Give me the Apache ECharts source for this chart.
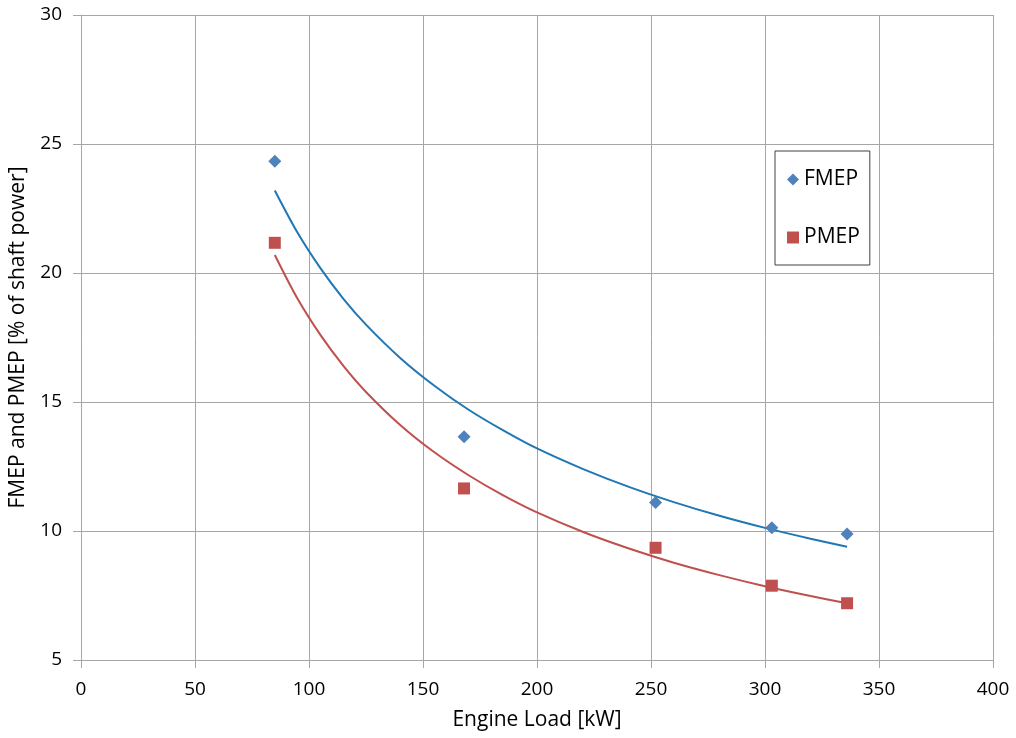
<!DOCTYPE html>
<html>
<head>
<meta charset="utf-8">
<script src="https://cdn.jsdelivr.net/npm/echarts@6/dist/echarts.min.js"></script>
<style>html,body{margin:0;padding:0;background:#fff}#c{width:1016px;height:738px}</style>
</head>
<body>
<div id="c"></div>
<script>
// Measured points
const loadX = [85, 168, 252, 303, 336];
const fmep = [24.33, 13.65, 11.1, 10.13, 9.88];
const pmep = [21.17, 11.65, 9.35, 7.88, 7.2];
// Trendlines
const trendX = [85, 95, 105, 115, 125, 140, 155, 170, 185, 200, 220, 240, 260, 280, 300, 320, 336];
const fmepTrend = [23.2, 21.56, 20.19, 19.01, 18.0, 16.71, 15.63, 14.7, 13.91, 13.2, 12.41, 11.72, 11.12, 10.59, 10.12, 9.7, 9.39];
const pmepTrend = [20.7, 19.0, 17.6, 16.41, 15.39, 14.11, 13.05, 12.16, 11.39, 10.72, 9.97, 9.33, 8.77, 8.29, 7.86, 7.48, 7.2];
const xTicks = [0, 50, 100, 150, 200, 250, 300, 350, 400];
const yTicks = [5, 10, 15, 20, 25, 30];
const seriesNames = ['FMEP', 'PMEP'];

const pair = (xs, ys) => xs.map((x, i) => [x, ys[i]]);
const font = 'Open Sans';
const gridColor = '#a6a6a6';

const chart = echarts.init(document.getElementById('c'));
chart.setOption({
  animation: false,
  backgroundColor: '#ffffff',
  textStyle: { fontFamily: font },
  grid: { left: 81, right: 23, top: 15, bottom: 78, containLabel: false, outerBoundsMode: 'none' },
  legend: {
    data: seriesNames,
    orient: 'vertical',
    left: 775, top: 151,
    padding: [18, 10, 17, 12],
    itemGap: 37,
    itemWidth: 12, itemHeight: 12,
    borderColor: '#404040', borderWidth: 1,
    backgroundColor: '#fff',
    textStyle: { fontSize: 21, color: '#000', fontFamily: font }
  },
  xAxis: {
    type: 'value', min: xTicks[0], max: xTicks[xTicks.length - 1], interval: 50,
    name: 'Engine Load [kW]', nameLocation: 'middle', nameGap: 50,
    nameTextStyle: { fontSize: 21, color: '#000', fontFamily: font },
    axisLine: { show: true, lineStyle: { color: gridColor, width: 1 } },
    axisTick: { show: true, length: 8, lineStyle: { color: gridColor } },
    axisLabel: { fontSize: 19, color: '#000', margin: 20, fontFamily: font },
    splitLine: { show: true, lineStyle: { color: gridColor, width: 1 } }
  },
  yAxis: {
    type: 'value', min: yTicks[0], max: yTicks[yTicks.length - 1], interval: 5,
    name: 'FMEP and PMEP [% of shaft power]', nameLocation: 'middle', nameGap: 52,
    nameTextStyle: { fontSize: 21, color: '#000', fontFamily: font },
    axisLine: { show: true, lineStyle: { color: gridColor, width: 1 } },
    axisTick: { show: true, length: 8, lineStyle: { color: gridColor } },
    axisLabel: { fontSize: 19, color: '#000', margin: 19, fontFamily: font },
    splitLine: { show: true, lineStyle: { color: gridColor, width: 1 } }
  },
  series: [
    {
      name: 'FMEP trend', type: 'line', data: pair(trendX, fmepTrend),
      smooth: 0.3, showSymbol: false, symbol: 'none',
      lineStyle: { color: '#1f77b4', width: 2 }, z: 2, silent: true
    },
    {
      name: 'PMEP trend', type: 'line', data: pair(trendX, pmepTrend),
      smooth: 0.3, showSymbol: false, symbol: 'none',
      lineStyle: { color: '#c0504d', width: 2 }, z: 2, silent: true
    },
    {
      name: seriesNames[0], type: 'scatter', data: pair(loadX, fmep),
      symbol: 'diamond', symbolSize: 13,
      itemStyle: { color: '#4f81bd', opacity: 1 }, z: 3
    },
    {
      name: seriesNames[1], type: 'scatter', data: pair(loadX, pmep),
      symbol: 'rect', symbolSize: 12,
      itemStyle: { color: '#c0504d', opacity: 1 }, z: 3
    }
  ]
});
</script>
</body>
</html>
